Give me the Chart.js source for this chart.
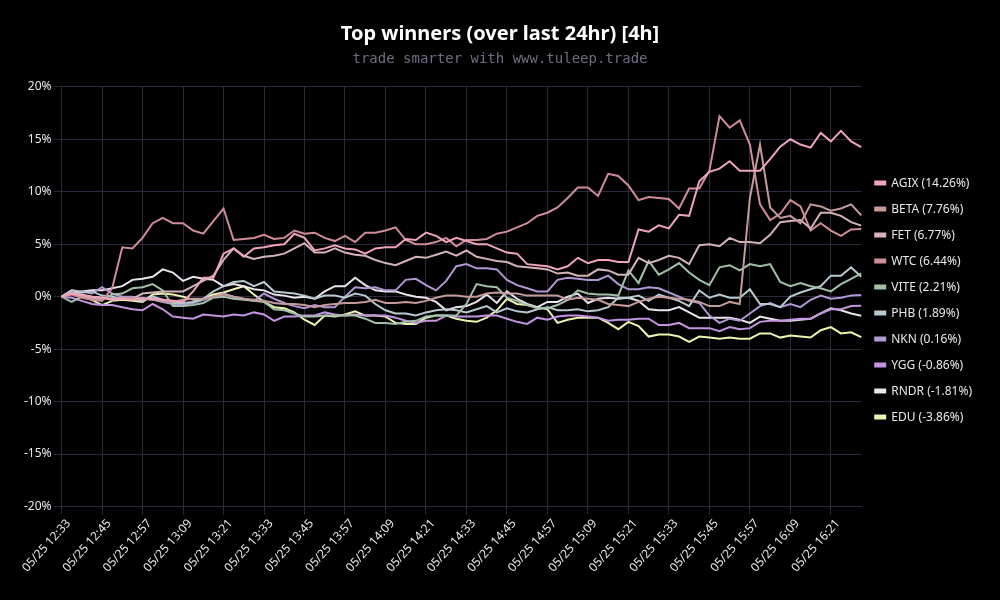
<!DOCTYPE html>
<html><head><meta charset="utf-8">
<script src="https://cdn.jsdelivr.net/npm/chart.js@4"></script>
<style>html,body{margin:0;padding:0;background:#000}canvas{display:block}</style>
</head><body><canvas id="c" width="1000" height="600"></canvas>
<script>
const times = ["05/25 12:33","05/25 12:36","05/25 12:39","05/25 12:42","05/25 12:45","05/25 12:48","05/25 12:51","05/25 12:54","05/25 12:57","05/25 13:00","05/25 13:03","05/25 13:06","05/25 13:09","05/25 13:12","05/25 13:15","05/25 13:18","05/25 13:21","05/25 13:24","05/25 13:27","05/25 13:30","05/25 13:33","05/25 13:36","05/25 13:39","05/25 13:42","05/25 13:45","05/25 13:48","05/25 13:51","05/25 13:54","05/25 13:57","05/25 14:00","05/25 14:03","05/25 14:06","05/25 14:09","05/25 14:12","05/25 14:15","05/25 14:18","05/25 14:21","05/25 14:24","05/25 14:27","05/25 14:30","05/25 14:33","05/25 14:36","05/25 14:39","05/25 14:42","05/25 14:45","05/25 14:48","05/25 14:51","05/25 14:54","05/25 14:57","05/25 15:00","05/25 15:03","05/25 15:06","05/25 15:09","05/25 15:12","05/25 15:15","05/25 15:18","05/25 15:21","05/25 15:24","05/25 15:27","05/25 15:30","05/25 15:33","05/25 15:36","05/25 15:39","05/25 15:42","05/25 15:45","05/25 15:48","05/25 15:51","05/25 15:54","05/25 15:57","05/25 16:00","05/25 16:03","05/25 16:06","05/25 16:09","05/25 16:12","05/25 16:15","05/25 16:18","05/25 16:21","05/25 16:24","05/25 16:27","05/25 16:30"];
const agix = [0,0.3,0.1,0,-0.1,-0.3,-0.2,-0.3,-0.2,-0.2,-0.3,-0.4,-0.5,0.5,1.8,1.8,4.1,4.6,3.8,4.6,4.7,4.9,5.0,6.0,5.6,4.4,4.6,4.9,4.6,4.5,4.1,4.6,4.7,4.7,5.5,5.4,6.1,5.8,5.2,5.6,5.3,5.0,5.0,4.6,4.2,4.1,3.1,3.0,2.9,2.6,2.9,3.7,3.2,3.5,3.5,3.3,3.3,6.4,6.2,6.8,6.5,7.8,7.7,11.0,11.9,12.2,12.9,12.0,12.0,12.0,13.1,14.3,15.0,14.5,14.2,15.6,14.8,15.8,14.8,14.26];
const beta = [0,0.3,0,-0.1,-0.1,-0.3,-0.1,-0.2,-0.1,-0.3,-0.4,-0.5,-0.3,-0.2,-0.2,0,0.2,0,-0.2,-0.3,-0.4,-0.6,-0.7,-0.7,-0.8,-1.0,-0.8,-0.7,-0.6,-0.6,-0.5,-0.3,-0.6,-0.6,-0.5,-0.6,-0.4,-0.1,0.1,0.1,0,0,0.3,0.4,0.3,0.3,0.1,0.1,0.1,0.1,-0.3,-0.1,-0.2,-0.3,-0.7,-0.8,-0.9,-0.5,-0.2,0,-0.1,-0.2,-0.3,-0.5,-0.9,-0.9,-0.5,-0.7,9.4,14.5,8.5,7.5,7.7,7.0,8.8,8.6,8.2,8.4,8.8,7.76];
const fet = [0,0.4,0.2,0,-0.1,-0.2,-0.1,-0.2,0.3,0.4,0.5,0.5,0.5,1.0,1.5,2.0,3.5,4.6,3.9,3.6,3.8,3.9,4.1,4.6,5.1,4.2,4.2,4.6,4.2,4.0,3.9,3.5,3.2,3.0,3.4,3.8,3.7,4.0,4.3,3.9,4.4,3.8,3.6,3.4,3.3,2.9,2.8,2.7,2.6,2.2,2.3,2.0,2.0,2.6,2.5,2.1,2.1,3.7,3.2,3.5,3.9,3.7,3.1,4.9,5.0,4.8,5.6,5.2,5.2,5.1,5.9,7.1,7.2,7.3,6.5,8.0,8.0,7.7,7.1,6.77];
const wtc = [0,0.2,-0.1,-0.3,-0.4,0.8,4.7,4.6,5.6,7.0,7.5,7.0,7.0,6.3,6.0,7.2,8.4,5.4,5.5,5.6,5.9,5.5,5.6,6.3,6.0,6.1,5.6,5.3,5.8,5.2,6.1,6.1,6.3,6.6,5.4,5.0,5.0,5.2,5.6,4.8,5.4,5.4,5.5,6.0,6.2,6.6,7.0,7.7,8.0,8.5,9.4,10.4,10.4,9.6,11.7,11.5,10.6,9.2,9.5,9.4,9.3,8.4,10.3,10.3,12.0,17.2,16.1,16.8,14.5,8.8,7.3,7.9,9.2,8.6,6.3,7.0,6.3,5.8,6.4,6.44];
const vite = [0,-0.5,0,-0.2,-0.3,0.2,0.3,0.8,0.9,1.2,0.6,-0.9,-0.9,-0.8,-0.6,-0.1,0,-0.2,-0.3,-0.4,-0.5,-1.2,-1.3,-1.6,-1.9,-1.9,-1.8,-1.8,-1.8,-1.8,-2.1,-2.5,-2.5,-2.6,-2.4,-2.3,-1.9,-1.8,-1.8,-1.8,-0.7,1.2,1.0,0.9,-0.1,-0.4,-0.8,-1.1,-1.1,-0.8,-0.3,0.6,0.3,0.2,0.2,0.1,2.5,1.3,3.4,2.1,2.6,3.2,2.3,1.6,1.1,2.8,3.0,2.5,3.1,2.9,3.1,1.4,1.0,1.3,1.0,0.8,0.5,1.2,1.7,2.21];
const phb = [0,0.6,0.4,0.5,0.1,0,-0.2,-0.2,-0.4,0,-0.3,-0.6,-0.6,-0.5,-0.2,0.5,1.0,1.4,1.5,1.0,1.4,0.5,0.4,0.3,0.1,-0.2,0.1,0.1,-0.1,0.3,0.1,-0.7,-1.3,-1.6,-1.6,-1.8,-1.5,-1.3,-1.2,-1.3,-1.5,-1.2,-0.9,-1.5,-1.1,-1.4,-1.5,-1.2,-1.0,-1.3,-1.3,-1.2,-1.4,-1.3,-1.0,-0.1,-0.1,0.1,-0.4,0.2,-0.1,-0.4,-0.9,0.6,-0.1,0.2,-0.1,-0.1,0.7,-0.7,-0.7,-1.0,0,0.4,0.7,1.0,2.0,2.0,2.8,1.89];
const nkn = [0,0.6,0.5,0.3,0.9,0.3,0,0,-0.2,-0.3,-0.5,-0.7,-0.8,-0.6,-0.3,0,0.3,0,-0.2,-0.4,0.3,-0.2,-0.6,-0.9,-1.1,-0.8,-1.0,-1.0,0,0.9,0.8,0.9,0.6,0.6,1.6,1.7,1.1,0.6,1.5,2.9,3.1,2.7,2.7,2.6,1.6,1.1,0.8,0.5,0.5,1.6,1.8,1.7,1.6,1.6,2.0,1.2,0.7,0.7,0.9,0.8,0.4,0,-0.4,-0.6,-1.8,-2.5,-2.1,-2.3,-1.6,-0.9,-0.6,-1.0,-0.7,-1.0,-0.3,0.1,-0.2,-0.1,0.1,0.16];
const ygg = [0,-0.1,-0.4,-0.7,-0.8,-0.8,-1.0,-1.2,-1.3,-0.7,-1.2,-1.9,-2.0,-2.1,-1.7,-1.8,-1.9,-1.7,-1.8,-1.5,-1.7,-2.3,-1.9,-1.9,-1.8,-1.8,-1.5,-1.7,-1.8,-1.7,-1.8,-1.8,-1.8,-2.0,-2.3,-2.5,-2.3,-2.3,-1.8,-1.9,-1.9,-1.9,-1.8,-1.8,-2.1,-2.4,-2.6,-2.0,-2.2,-1.9,-1.8,-1.8,-1.9,-2.0,-2.3,-2.2,-2.2,-2.1,-2.1,-2.7,-2.7,-2.5,-3.0,-3.0,-3.0,-3.3,-2.9,-3.1,-3.0,-2.4,-2.3,-2.3,-2.2,-2.1,-2.1,-1.6,-1.2,-1.2,-0.9,-0.86];
const rndr = [0,0.3,0.5,0.6,0.6,0.8,1.0,1.6,1.7,1.9,2.6,2.3,1.5,1.9,1.7,1.6,1.0,1.2,1.0,0.7,0.6,0.2,0.1,-0.1,0,-0.2,0.5,1.0,1.0,1.8,1.1,0.6,0.5,0.5,0.2,0,-0.1,-0.5,-1.3,-1.0,-0.9,-0.5,0.2,-0.6,0.5,-0.2,-0.7,-1.0,-0.5,-0.5,0,0.3,-0.6,-0.2,-0.1,-0.2,-0.1,-0.4,-1.2,-1.3,-1.3,-1.0,-1.5,-2.0,-2.0,-2.0,-2.0,-2.2,-2.5,-1.9,-2.1,-2.3,-2.3,-2.2,-2.1,-1.6,-1.1,-1.3,-1.6,-1.81];
const edu = [0,0.3,0,-0.3,-0.8,-0.4,-0.3,-0.4,-0.5,0.2,0.3,0.2,0,-0.3,-0.2,0.2,0.4,0.7,1.0,0.2,-0.5,-1.0,-1.1,-1.5,-2.2,-2.7,-1.8,-1.9,-1.7,-1.4,-1.8,-1.8,-1.9,-2.5,-2.6,-2.6,-2.0,-1.8,-1.8,-2.1,-2.3,-2.4,-2.0,-1.3,-0.2,-0.7,-0.8,-1.0,-1.2,-2.5,-2.2,-2.0,-2.0,-2.0,-2.5,-3.1,-2.4,-2.8,-3.8,-3.6,-3.6,-3.8,-4.3,-3.8,-3.9,-4.0,-3.9,-4.0,-4.0,-3.5,-3.5,-3.9,-3.7,-3.8,-3.9,-3.2,-2.9,-3.5,-3.4,-3.86];
const names = ["AGIX (14.26%)","BETA (7.76%)","FET (6.77%)","WTC (6.44%)","VITE (2.21%)","PHB (1.89%)","NKN (0.16%)","YGG (-0.86%)","RNDR (-1.81%)","EDU (-3.86%)"];
const colors = ["#f0a4bc","#c49a9a","#d4b4b8","#d08c98","#a0c0a8","#b8c9d0","#b098d4","#c494e0","#ece4ec","#ecf4b0"];
const yTicks = [-20,-15,-10,-5,0,5,10,15,20];
const series = [agix,beta,fet,wtc,vite,phb,nkn,ygg,rndr,edu];
const grid = "#2a2a3c";
const font = "'Noto Sans'";
new Chart(document.getElementById("c"), {
  type: "line",
  data: { labels: times, datasets: series.map((d,i)=>({label:names[i],data:d,borderColor:colors[i],backgroundColor:colors[i],borderWidth:2,pointRadius:0,tension:0})) },
  options: {
    responsive:false, animation:false,
    layout:{padding:{left:18,right:18,top:16,bottom:23}},
    plugins:{
      title:{display:true,text:"Top winners (over last 24hr) [4h]",color:"#fff",font:{family:font,size:20,weight:"bold"},padding:{top:6,bottom:5}},
      subtitle:{display:true,text:"trade smarter with www.tuleep.trade",color:"#6e6e80",font:{family:"'DejaVu Sans Mono'",size:14},padding:{bottom:19}},
      legend:{position:"right",title:{display:true,text:"",font:{size:1},padding:3},labels:{boxWidth:10,boxHeight:3,padding:14,color:"#e8e8e8",font:{family:font,size:12}}},
      tooltip:{enabled:false}
    },
    scales:{
      x:{
        grid:{color:grid,tickColor:grid,drawTicks:true,tickLength:8},border:{color:grid},
        afterBuildTicks:s=>{s.ticks=s.ticks.filter(t=>t.value%4===0);},
        ticks:{autoSkip:false,minRotation:48,maxRotation:48,labelOffset:7,color:"#e8e8e8",font:{family:font,size:12},padding:2}
      },
      y:{
        min:-20,max:20,
        afterBuildTicks:s=>{s.ticks=yTicks.map(v=>({value:v}));},
        afterFit:s=>{s.width+=4;},
        grid:{color:grid,tickColor:grid,tickLength:8},border:{color:grid},
        ticks:{color:"#e8e8e8",font:{family:font,size:12},padding:2,callback:v=>v+"%"}
      }
    }
  }
});
</script></body></html>
